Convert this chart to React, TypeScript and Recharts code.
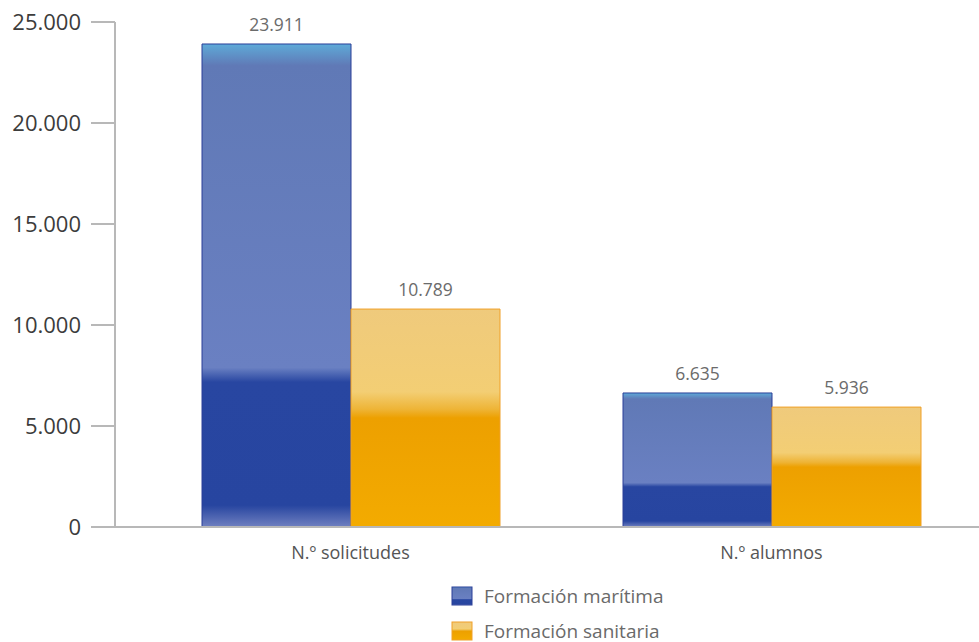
import React from "react";
import { BarChart, Bar, XAxis, YAxis, LabelList, Legend } from "recharts";

const categories = ["N.º solicitudes", "N.º alumnos"];
const maritima = [23911, 6635];
const sanitaria = [10789, 5936];
const yTicks = [0, 5000, 10000, 15000, 20000, 25000];

const SERIES = [
  { key: "maritima", name: "Formación marítima", fill: "url(#gradBlue)", stroke: "#2a3f98" },
  { key: "sanitaria", name: "Formación sanitaria", fill: "url(#gradOrange)", stroke: "#f0a028" },
];

const data = categories.map((c, i) => ({
  name: c,
  maritima: maritima[i],
  sanitaria: sanitaria[i],
}));

const FONT = "'Open Sans', 'Noto Sans', sans-serif";

// 25000 -> "25.000"
const fmt = (v: number) => String(v).replace(/\B(?=(\d{3})+(?!\d))/g, ".");

function Gradients() {
  return (
    <defs>
      <linearGradient id="gradBlue" x1="0" y1="0" x2="0" y2="1">
        <stop offset="0" stopColor="#5eaad8" />
        <stop offset="0.045" stopColor="#6079b6" />
        <stop offset="0.67" stopColor="#6a80c2" />
        <stop offset="0.7" stopColor="#2846a1" />
        <stop offset="0.955" stopColor="#2745a0" />
        <stop offset="1" stopColor="#7080c0" />
      </linearGradient>
      <linearGradient id="gradOrange" x1="0" y1="0" x2="0" y2="1">
        <stop offset="0" stopColor="#efca7c" />
        <stop offset="0.38" stopColor="#f3ce74" />
        <stop offset="0.46" stopColor="#eeb436" />
        <stop offset="0.5" stopColor="#eda000" />
        <stop offset="1" stopColor="#f3ab00" />
      </linearGradient>
    </defs>
  );
}

function LegendContent() {
  return (
    <div style={{ fontFamily: FONT }}>
      {SERIES.map((s) => (
        <div key={s.key} style={{ display: "flex", alignItems: "center", height: 35 }}>
          <svg width={22} height={20} style={{ marginRight: 11 }}>
            <rect x={1} y={1} width={20} height={18} fill={s.fill} stroke={s.stroke} />
          </svg>
          <span style={{ fontSize: 19, color: "#6a6a6a" }}>{s.name}</span>
        </div>
      ))}
    </div>
  );
}

export default function App() {
  return (
    <div style={{ position: "absolute", left: 0, top: 0, width: 979, height: 642, background: "#fff" }}>
      <BarChart
        width={979}
        height={642}
        data={data}
        margin={{ top: 22, right: 0, left: 0, bottom: 75 }}
        barCategoryGap={62}
        barGap={0}
      >
        <Gradients />
        <XAxis
          dataKey="name"
          padding={{ left: 25, right: -3 }}
          tickLine={false}
          tickSize={0}
          tickMargin={19}
          height={40}
          axisLine={{ stroke: "#b8b8b8", strokeWidth: 2 }}
          tick={{ fontSize: 18, fill: "#555", fontFamily: FONT }}
        />
        <YAxis
          width={115}
          domain={[0, 25000]}
          ticks={yTicks}
          tickFormatter={fmt}
          tickSize={24}
          tickMargin={10}
          axisLine={{ stroke: "#b8b8b8", strokeWidth: 2 }}
          tickLine={{ stroke: "#b8b8b8", strokeWidth: 2 }}
          tick={{ fontSize: 22, fill: "#3c3c3c", fontFamily: FONT }}
        />
        <Legend
          layout="vertical"
          align="center"
          verticalAlign="middle"
          wrapperStyle={{ top: 578, left: 451, width: 300 }}
          content={<LegendContent />}
        />
        {SERIES.map((s) => (
          <Bar
            key={s.key}
            dataKey={s.key}
            name={s.name}
            fill={s.fill}
            stroke={s.stroke}
            strokeWidth={1}
            isAnimationActive={false}
          >
            <LabelList
              dataKey={s.key}
              position="top"
              offset={13}
              formatter={(v: any) => fmt(Number(v))}
              style={{ fontSize: 17.5, fill: "#6b6b6b", fontFamily: FONT }}
            />
          </Bar>
        ))}
      </BarChart>
    </div>
  );
}
